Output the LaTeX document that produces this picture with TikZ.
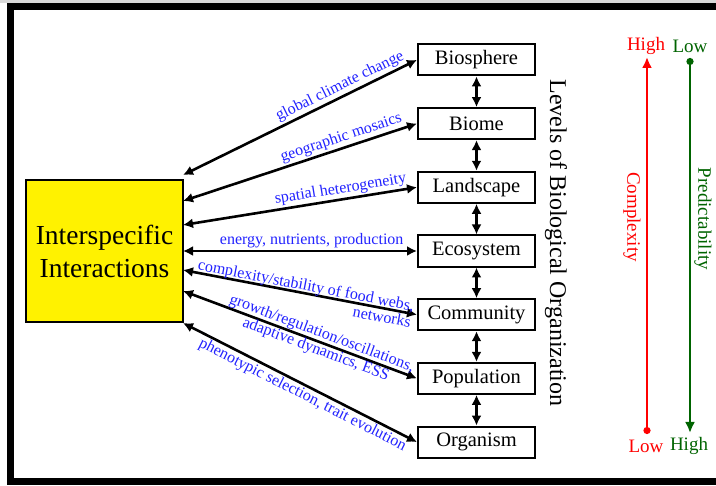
\documentclass[tikz,border=0pt]{standalone}
\usepackage{fontspec}
\setmainfont{Liberation Serif}
\usetikzlibrary{arrows.meta}
\usetikzlibrary{positioning}
\usetikzlibrary{matrix}
\definecolor{predgreen}{RGB}{0,100,0}
\definecolor{labblue}{RGB}{35,35,255}

\begin{document}
\begin{tikzpicture}[x=1pt,y=-1pt]
\tikzstyle{level} = [rectangle, draw=black, line width=2pt, minimum width=117pt,
minimum height=31pt, inner sep=0pt, font=\fontsize{20.5}{24}\selectfont]
\tikzstyle{hub} = [rectangle, draw=black, line width=1.6pt, fill=yellow,
minimum width=157pt, minimum height=142pt, align=center, font=\fontsize{27.5}{33}\selectfont]
\tikzstyle{link} = [draw, line width=2.6pt, {Latex[length=10pt,width=10pt]}-{Latex[length=10pt,width=10pt]}]
\tikzstyle{lab} = [text=labblue, sloped, inner sep=1.5pt, font=\fontsize{16}{17}\selectfont]
\tikzstyle{gauge} = [line width=2.6pt, {Circle[length=7pt]}-{Latex[length=11pt,width=10pt]}]
\tikzstyle{tag} = [inner sep=0pt, font=\fontsize{19}{22}\selectfont]
\useasboundingbox (0,0) rectangle (716,486);
\fill[white] (0,0) rectangle (716,486);
\fill[black!15] (0,0) rectangle (716,3);
\draw[line width=7pt] (730,6.5) -- (10.5,6.5) -- (10.5,481.5) -- (730,481.5);
\matrix [row sep=30.7pt] at (476.5,251)
{
% levels, top to bottom
\node [level] (biosphere) {Biosphere}; \\
\node [level] (biome) {Biome}; \\
\node [level] (landscape) {Landscape}; \\
\node [level] (ecosystem) {Ecosystem}; \\
\node [level] (community) {Community}; \\
\node [level] (population) {Population}; \\
\node [level] (organism) {Organism}; \\
};
\node [hub] (inter) at (104.5,251) {Interspecific\\Interactions};
\node [rotate=-90, font=\fontsize{24}{28}\selectfont] (levelsname) at (556,243) {Levels of Biological Organization};
% ends on the hub side
\coordinate (a1) at (183,175);
\coordinate (a2) at (183,201);
\coordinate (a3) at (183,225);
\coordinate (a4) at (183,251);
\coordinate (a5) at (183,270);
\coordinate (a6) at (183,291);
\coordinate (a7) at (183,323);
\draw[link] (a1) -- node [lab, above, pos=0.69] {global climate change} (biosphere.west);
\draw[link] (a2) -- node [lab, above, pos=0.69] {geographic mosaics} (biome.west);
\draw[link] (a3) -- node [lab, above, pos=0.68] {spatial heterogeneity} (landscape.west);
\draw[link] (a4) -- node [lab, above, pos=0.55] {energy, nutrients, production} (ecosystem.west);
\draw[link] (a5) -- node [lab, align=right, pos=0.52] {complexity/stability of food webs,\\networks} (community.west);
\draw[link] (a6) -- node [lab, align=center, pos=0.58] {growth/regulation/oscillations,\\adaptive dynamics, ESS} (population.west);
\draw[link] (a7) -- node [lab, below, pos=0.53] {phenotypic selection, trait evolution} (organism.west);
\draw[link] (biosphere) -- (biome);
\draw[link] (biome) -- (landscape);
\draw[link] (landscape) -- (ecosystem);
\draw[link] (ecosystem) -- (community);
\draw[link] (community) -- (population);
\draw[link] (population) -- (organism);
% complexity and predictability scales
\coordinate (cxlow) at (647,434);
\coordinate (cxhigh) at (647,57);
\coordinate (prlow) at (690,58);
\coordinate (prhigh) at (690,433);
\draw[gauge, red] (cxlow) -- (cxhigh);
\draw[gauge, predgreen] (prlow) -- (prhigh);
\node [tag, text=red] (cxhightag) at (646,46) {High};
\node [tag, text=predgreen] (prlowtag) at (690,46) {Low};
\node [tag, text=red] (cxlowtag) at (646,446) {Low};
\node [tag, text=predgreen] (prhightag) at (689,446) {High};
\node [tag, text=red, rotate=-90] (cxname) at (632,217) {Complexity};
\node [tag, text=predgreen, rotate=-90] (prname) at (703,219) {Predictability};
\end{tikzpicture}
\end{document}
